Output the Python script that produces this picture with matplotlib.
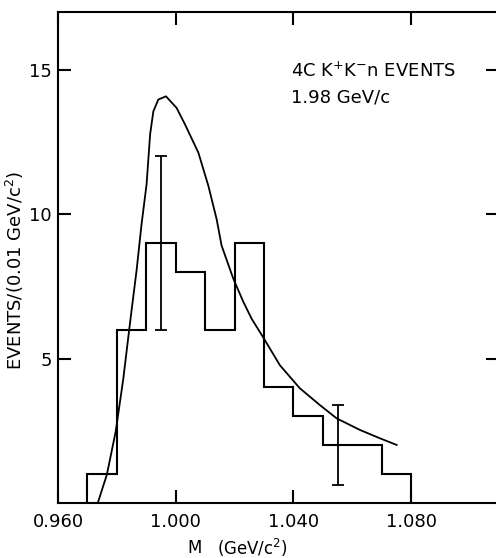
import matplotlib
matplotlib.use("Agg")
import matplotlib.pyplot as plt
import numpy as np

#--------------------------------------------------
#datos

bordes = [0.970, 0.980, 0.990, 1.000, 1.010, 1.020, 1.030, 1.040, 1.050, 1.060, 1.070, 1.080]
eventos = [1, 6, 9, 8, 6, 9, 4, 3, 2, 2, 1]

err_x = [0.995, 1.055]
err_y = [9, 2]
err_d = [3, 1.38]

curva_x = [0.9737, 0.9766, 0.9796, 0.9822, 0.9839, 0.9850, 0.9867, 0.9884, 0.9901, 0.9913,
           0.9924, 0.9941, 0.9967, 1.0003, 1.0032, 1.0077, 1.0111, 1.0139, 1.0156, 1.0196,
           1.0230, 1.0258, 1.0300, 1.0354, 1.0422, 1.0490, 1.0547, 1.0626, 1.0694, 1.0751]
curva_y = [0.06, 0.98, 2.47, 4.31, 5.75, 6.67, 8.05, 9.66, 11.03, 12.76,
           13.56, 13.97, 14.08, 13.68, 13.10, 12.13, 10.98, 9.83, 8.91, 7.76,
           6.96, 6.38, 5.69, 4.77, 3.97, 3.39, 2.93, 2.53, 2.24, 2.01]

xticks = [0.960, 1.000, 1.040, 1.080]
xlabels = ["0.960", "1.000", "1.040", "1.080"]
yticks = [5, 10, 15]

#--------------------------------------------------
#figura

plt.rcParams['font.family'] = ['DejaVu Sans']
plt.rcParams['mathtext.default'] = 'regular'

fig = plt.figure(figsize=(4.96, 5.58), dpi=100)
ax = fig.add_axes([58/496, 1-503/558, 441.4/496, 491/558])

lw = 1.5
ax.stairs(eventos, bordes, baseline=0, color="black", lw=lw)
ax.plot(curva_x, curva_y, color="black", lw=1.3)
ax.errorbar(err_x, err_y, yerr=err_d, fmt="none", ecolor="black",
            elinewidth=1.3, capsize=4.5, capthick=1.3)

ax.set_xlim(0.960, 1.110)
ax.set_ylim(0, 17)
ax.set_xticks(xticks)
ax.set_xticklabels(xlabels)
ax.set_yticks(yticks)
ax.tick_params(direction="in", length=9.5, width=lw, labelsize=13,
               top=True, right=True)
ax.tick_params(axis="x", pad=7)
ax.tick_params(axis="y", pad=4.5)
for s in ax.spines.values():
    s.set_linewidth(lw)

ax.text(0.527, 0.8676, "4C K$^{+}$K$^{-}$n EVENTS", transform=ax.transAxes,
        fontsize=13, va="baseline", ha="left")
ax.text(0.527, 0.8147, "1.98 GeV/c", transform=ax.transAxes,
        fontsize=13, va="baseline", ha="left")

#etiquetas de ejes
fig.text(195/496, 1-548/558, "M", fontsize=12, ha="center", va="center")
fig.text(217/496, 1-548/558, "(GeV/c$^{2}$)", fontsize=12, ha="left", va="center")
fig.text(15/496, 1-270/558, "EVENTS/(0.01 GeV/c$^{2}$)", fontsize=13,
         ha="center", va="center", rotation=90)

plt.savefig("out.png", dpi=100)
